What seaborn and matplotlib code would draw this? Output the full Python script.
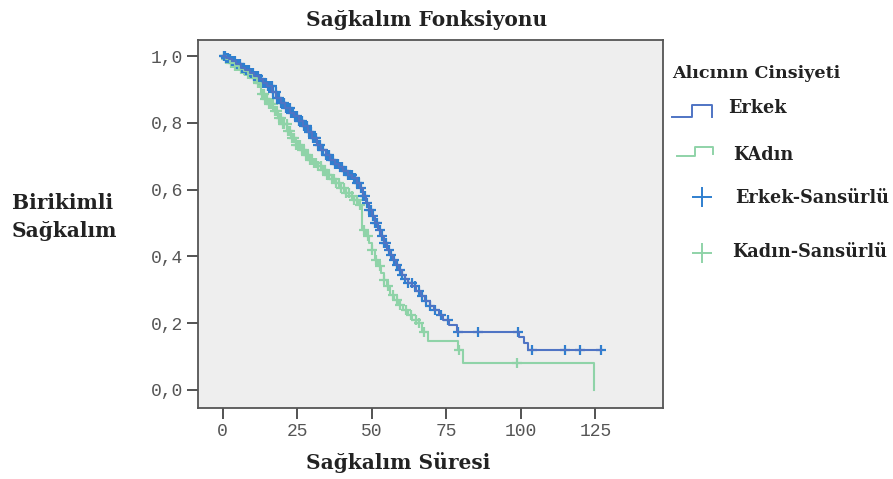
import numpy as np
import pandas as pd
import matplotlib
matplotlib.use("Agg")
import matplotlib.pyplot as plt
import seaborn as sns

# ---------------- data ----------------
erkek_t = [0, 1, 2, 3, 4.5, 6, 7.5, 9, 10.5, 12, 13.5, 15, 16.5, 18, 19.5, 21, 22.5, 24, 25.5,
           27, 28.5, 30, 31.5, 33, 34.5, 36, 37.5, 39, 40.5, 42, 43.5, 45, 46, 47, 48, 49, 50,
           51, 52, 53, 54, 55, 56, 57, 58, 59, 60, 61, 62, 63.5, 65, 66.5, 68, 69.5, 71, 72.5,
           74, 76, 78.5, 99.5, 101, 102.5, 127]
erkek_s = [1.0, 0.995, 0.99, 0.985, 0.975, 0.965, 0.958, 0.95, 0.94, 0.93, 0.92, 0.91, 0.892,
           0.875, 0.86, 0.845, 0.83, 0.82, 0.805, 0.79, 0.772, 0.755, 0.735, 0.72, 0.705, 0.69,
           0.678, 0.668, 0.655, 0.645, 0.635, 0.62, 0.605, 0.58, 0.56, 0.54, 0.52, 0.50, 0.48,
           0.46, 0.44, 0.42, 0.405, 0.39, 0.375, 0.36, 0.345, 0.332, 0.32, 0.31, 0.295, 0.28,
           0.265, 0.25, 0.24, 0.225, 0.21, 0.195, 0.175, 0.16, 0.14, 0.12, 0.12]

kadin_t = [0, 1, 2.5, 4, 5.5, 7, 8.5, 10, 11.5, 12.7, 14, 15.5, 17, 18.5, 20, 21.5, 23, 24.5, 26,
           27.5, 29, 30.5, 32, 33.5, 35, 36.5, 38, 39.5, 41, 42.5, 44, 45.5, 46.7, 48, 49, 50,
           51, 52, 53, 54, 55, 56, 57.5, 59, 60.5, 62, 63.5, 65, 67, 69, 79, 80.6, 124.7]
kadin_s = [1.0, 0.99, 0.98, 0.97, 0.962, 0.955, 0.945, 0.935, 0.92, 0.885, 0.87, 0.855, 0.835,
           0.815, 0.795, 0.775, 0.755, 0.735, 0.72, 0.705, 0.69, 0.68, 0.67, 0.66, 0.645, 0.632,
           0.62, 0.605, 0.59, 0.58, 0.57, 0.555, 0.48, 0.46, 0.44, 0.42, 0.39, 0.37, 0.35, 0.33,
           0.31, 0.285, 0.27, 0.255, 0.24, 0.225, 0.21, 0.20, 0.175, 0.148, 0.12, 0.081, 0.0]

erkek_cens = [0.3, 0.8, 1.2, 1.9, 2.4, 3.0, 3.6, 4.1, 4.8, 5.3, 5.9, 6.5, 7.0, 7.7, 8.2, 8.8,
              9.4, 10.0, 10.6, 11.1, 11.8, 12.3, 12.9, 13.5, 14.1, 14.6, 15.3, 15.9, 16.4, 17.0,
              17.7, 18.2, 18.8, 19.5, 20.0, 20.6, 21.3, 21.8, 22.4, 23.0, 23.7, 24.2, 24.8, 25.5,
              26.0, 26.6, 27.3, 27.8, 28.4, 29.1, 29.6, 30.2, 30.9, 31.4, 32.0, 32.7, 33.2, 33.8,
              34.5, 35.1, 35.6, 36.3, 36.9, 37.5, 38.2, 38.8, 39.4, 40.1, 40.7, 41.3, 42.0, 42.6,
              43.3, 43.9, 44.5, 45.2, 45.8, 46.4, 47.1, 47.7, 48.4, 49.0, 49.7, 50.4, 51.1, 51.8,
              52.6, 53.3, 54.1, 54.9, 55.8, 56.6, 57.5, 58.4, 59.3, 60.3, 61.2, 62.3, 63.4, 64.5,
              65.7, 66.9, 68.2, 69.6, 71.3, 73.2, 75.5, 79, 85.6, 99, 103.6, 114.7, 119.7, 126.8]
kadin_cens = [0.4, 1.0, 1.6, 2.3, 2.9, 3.5, 4.2, 4.8, 5.4, 6.1, 6.7, 7.3, 8.0, 8.6, 9.2, 9.9,
              10.5, 11.1, 11.8, 12.4, 13.1, 13.7, 14.3, 15.0, 15.6, 16.2, 16.9, 17.5, 18.2, 18.8,
              19.4, 20.1, 20.7, 21.4, 22.0, 22.7, 23.3, 24.0, 24.6, 25.3, 25.9, 26.6, 27.3, 27.9,
              28.6, 29.3, 30.0, 30.7, 31.4, 32.1, 32.8, 33.5, 34.2, 35.0, 35.7, 36.5, 37.3, 38.1,
              38.9, 39.7, 40.6, 41.5, 42.4, 43.3, 44.2, 45.1, 46.0, 47.4, 48.6, 50.2, 51.5, 52.8,
              54.1, 55.6, 57.0, 58.6, 59.6, 61.4, 63.0, 64.8, 66.0, 67.4, 79.3, 98.7]

x_ticks = [0, 25, 50, 75, 100, 125]
y_ticks = [0.0, 0.2, 0.4, 0.6, 0.8, 1.0]
y_tick_labels = ["0,0", "0,2", "0,4", "0,6", "0,8", "1,0"]

title = "Sağkalım Fonksiyonu"
xlabel = "Sağkalım Süresi"
ylabel = "Birikimli\nSağkalım"
legend_title = "Alıcının Cinsiyeti"
legend_labels = ["Erkek", "KAdın", "Erkek-Sansürlü", "Kadın-Sansürlü"]

blue_line = "#4f74c4"
blue_mark = "#2f7fcf"
green_line = "#8fd3a8"
green_mark = "#8fd3a8"

# ---------------- figure ----------------
W, H = 893, 479
fig = plt.figure(figsize=(W / 100, H / 100), dpi=100)
fig.patch.set_facecolor("white")


def fx(x):
    return x / W


def fy(y):
    return 1 - y / H


ax = fig.add_axes([fx(198.3), fy(408), fx(663) - fx(198.3), fy(40) - fy(408)])
ax.set_facecolor("#eeeeee")


def surv_at(ts, ss, t):
    idx = np.searchsorted(np.asarray(ts), t, side="right") - 1
    return np.asarray(ss)[idx]


df_e = pd.DataFrame({"t": erkek_t, "s": erkek_s})
df_k = pd.DataFrame({"t": kadin_t, "s": kadin_s})
sns.lineplot(data=df_k, x="t", y="s", ax=ax, color=green_line, lw=1.5,
             drawstyle="steps-post", estimator=None, sort=False)
sns.lineplot(data=df_e, x="t", y="s", ax=ax, color=blue_line, lw=1.5,
             drawstyle="steps-post", estimator=None, sort=False)

ce = pd.DataFrame({"t": erkek_cens, "s": surv_at(erkek_t, erkek_s, erkek_cens)})
ck = pd.DataFrame({"t": kadin_cens, "s": surv_at(kadin_t, kadin_s, kadin_cens)})
sns.scatterplot(data=ck, x="t", y="s", ax=ax, marker="+", s=60, color=green_mark, linewidth=1.6)
sns.scatterplot(data=ce, x="t", y="s", ax=ax, marker="+", s=60, color=blue_mark, linewidth=1.6)

ax.set_xlim(-8.2, 147.7)
ax.set_ylim(-0.054, 1.048)
ax.set_xticks(x_ticks)
ax.set_xticklabels([str(v) for v in x_ticks])
ax.set_yticks(y_ticks)
ax.set_yticklabels(y_tick_labels)
ax.tick_params(axis="both", direction="out", length=8, width=1.3, color="#444444",
               labelcolor="#555555", labelsize=13, pad=3)
for lab in ax.get_xticklabels() + ax.get_yticklabels():
    lab.set_family("Liberation Mono")
for sp in ax.spines.values():
    sp.set_color("#555555")
    sp.set_linewidth(1.3)
ax.set_xlabel("")
ax.set_ylabel("")

serif = "DejaVu Serif"
fig.text(fx(427), fy(20), title, ha="center", va="center", fontsize=14.5,
         fontweight="bold", family=serif, color="#222222")
fig.text(fx(398), fy(463), xlabel, ha="center", va="center", fontsize=14.5,
         fontweight="bold", family=serif, color="#222222")
fig.text(fx(12), fy(217), ylabel, ha="left", va="center", fontsize=14.5,
         fontweight="bold", family=serif, color="#222222", linespacing=1.45)

# ---------------- legend ----------------
lax = fig.add_axes([0, 0, 1, 1], facecolor="none")
lax.set_xlim(0, W)
lax.set_ylim(H, 0)
lax.axis("off")
lax.plot([671.7, 691.7, 691.7, 711.7, 711.7], [116.7, 116.7, 105, 105, 116.7],
         color=blue_line, lw=1.4)
lax.plot([676.7, 695, 695, 713.3, 713.3], [156, 156, 146.7, 146.7, 154],
         color=green_line, lw=1.4)
lax.plot([701.7], [196.7], marker="+", ms=14, mew=1.4, color=blue_mark)
lax.plot([702], [253], marker="+", ms=14, mew=1.4, color=green_mark)

fig.text(fx(671.7), fy(73), legend_title, ha="left", va="center", fontsize=12.6,
         fontweight="bold", family=serif, color="#222222")
for (lx, ly), lab in zip([(728, 108), (732.7, 155), (735, 198), (731.7, 251.7)], legend_labels):
    fig.text(fx(lx), fy(ly), lab, ha="left", va="center", fontsize=12.7,
             fontweight="bold", family=serif, color="#222222")

fig.savefig("out.png", dpi=100)
